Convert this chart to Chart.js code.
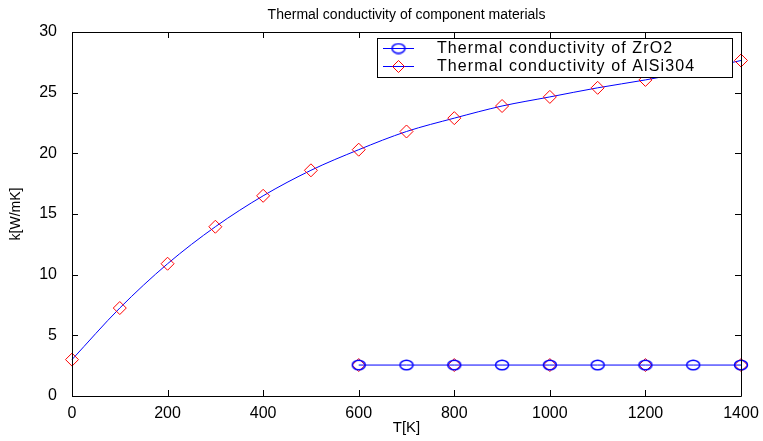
<!DOCTYPE html>
<html>
<head>
<meta charset="utf-8">
<script src="https://cdn.jsdelivr.net/npm/chart.js@4"></script>
<style>
  html, body { margin: 0; padding: 0; background: #fff; }
  #wrap { width: 763px; height: 441px; }
</style>
</head>
<body>
<div id="wrap"><canvas id="kChart" width="763" height="441"></canvas></div>
<script>
// temperatures [K] and conductivities [W/mK]
const tempAlSi = [0, 100, 200, 300, 400, 500, 600, 700, 800, 900, 1000, 1100, 1200, 1300, 1400];
const kAlSi = [3.0, 7.25, 10.9, 13.95, 16.5, 18.6, 20.3, 21.8, 22.9, 23.9, 24.65, 25.4, 26.05, 26.8, 27.65];
const tempZrO2 = [600, 700, 800, 900, 1000, 1100, 1200, 1300, 1400];
const kZrO2 = [2.55, 2.55, 2.55, 2.55, 2.55, 2.55, 2.55, 2.55, 2.55];
// red marks hidden under the ZrO2 circles
const tempExtra = [600, 800, 1000, 1200, 1400];
const kExtra = [2.55, 2.55, 2.55, 2.55, 2.55];

const chartTitle = 'Thermal conductivity of component materials';
const xTitle = 'T[K]';
const yTitle = 'k[W/mK]';

const toPts = (xs, ys) => xs.map((x, i) => ({x: x, y: ys[i]}));
const FONT = '"Liberation Sans", Arial, sans-serif';

// matlab's circles come out a bit squashed in the picture
const ovalMark = document.createElement('canvas');
ovalMark.width = 16; ovalMark.height = 12;
(function() {
    const c = ovalMark.getContext('2d');
    c.strokeStyle = '#0000ff';
    c.lineWidth = 1.5;
    c.beginPath();
    c.ellipse(8, 6, 6.5, 4.8, 0, 0, Math.PI * 2);
    c.stroke();
})();

// title, box, inward ticks and the in-plot legend, drawn the matlab way
const matlabLook = {
    id: 'matlabLook',
    afterDraw(chart) {
        const ctx = chart.ctx;
        const a = chart.chartArea;
        const xs = chart.scales.x, ys = chart.scales.y;
        ctx.save();
        ctx.fillStyle = '#000';
        ctx.font = '14px ' + FONT;
        ctx.textAlign = 'center';
        ctx.textBaseline = 'middle';
        ctx.fillText(chartTitle, (a.left + a.right) / 2, 15);

        ctx.strokeStyle = '#000';
        ctx.lineWidth = 1;
        ctx.beginPath();
        ctx.rect(a.left + 0.5, a.top + 0.5, a.right - a.left, a.bottom - a.top);
        xs.ticks.forEach(t => {
            const px = Math.round(xs.getPixelForValue(t.value)) + 0.5;
            ctx.moveTo(px, a.bottom); ctx.lineTo(px, a.bottom - 6);
            ctx.moveTo(px, a.top); ctx.lineTo(px, a.top + 6);
        });
        ys.ticks.forEach(t => {
            const py = Math.round(ys.getPixelForValue(t.value)) + 0.5;
            ctx.moveTo(a.left, py); ctx.lineTo(a.left + 6, py);
            ctx.moveTo(a.right, py); ctx.lineTo(a.right - 6, py);
        });
        ctx.stroke();

        // legend box
        const bx = 377, by = 38, bw = 355, bh = 39;
        ctx.fillStyle = '#fff';
        ctx.fillRect(bx, by, bw, bh);
        ctx.strokeRect(bx + 0.5, by + 0.5, bw, bh);
        const rows = [
            {ds: chart.data.datasets[2], y: 48},
            {ds: chart.data.datasets[0], y: 66}
        ];
        rows.forEach(r => {
            const cy = r.y + 0.5;
            ctx.strokeStyle = '#0000ff';
            ctx.lineWidth = 1;
            ctx.beginPath();
            ctx.moveTo(383, cy); ctx.lineTo(414, cy);
            ctx.stroke();
            if (r.ds.pointStyle === ovalMark) {
                ctx.drawImage(ovalMark, 398.5 - 8, cy - 6);
            } else {
                ctx.strokeStyle = r.ds.pointBorderColor;
                ctx.beginPath();
                ctx.moveTo(398.5, cy - 6); ctx.lineTo(404.5, cy);
                ctx.lineTo(398.5, cy + 6); ctx.lineTo(392.5, cy); ctx.closePath();
                ctx.stroke();
            }
            ctx.fillStyle = '#000';
            ctx.font = '16px ' + FONT;
            ctx.letterSpacing = '1.1px';
            ctx.textAlign = 'left';
            ctx.fillText(r.ds.label, 437, r.y + 1);
            ctx.letterSpacing = '0px';
        });
        ctx.restore();
    }
};

const ctx = document.getElementById('kChart').getContext('2d');
new Chart(ctx, {
    type: 'line',
    data: {
        datasets: [{
            label: 'Thermal conductivity of AlSi304',
            data: toPts(tempAlSi, kAlSi),
            borderColor: '#0000ff',
            borderWidth: 1,
            cubicInterpolationMode: 'monotone',
            pointStyle: 'rectRot',
            pointRadius: 6.5,
            pointBorderColor: '#ff0000',
            pointBackgroundColor: 'rgba(0,0,0,0)',
            pointBorderWidth: 1,
            clip: false,
            order: 3
        }, {
            label: '',
            data: toPts(tempExtra, kExtra),
            showLine: false,
            pointStyle: 'rectRot',
            pointRadius: 6.5,
            pointBorderColor: '#ff0000',
            pointBackgroundColor: 'rgba(0,0,0,0)',
            pointBorderWidth: 1,
            clip: false,
            order: 2
        }, {
            label: 'Thermal conductivity of ZrO2',
            data: toPts(tempZrO2, kZrO2),
            borderColor: '#0000ff',
            borderWidth: 1,
            pointStyle: ovalMark,
            pointRadius: 6,
            clip: false,
            order: 1
        }]
    },
    options: {
        responsive: false,
        animation: false,
        events: [],
        layout: { padding: { top: 32, right: 22, left: 0, bottom: 0 } },
        plugins: {
            legend: { display: false },
            title: { display: false },
            tooltip: { enabled: false }
        },
        scales: {
            x: {
                type: 'linear',
                min: 0, max: 1400,
                ticks: { stepSize: 200, color: '#000', padding: 0,
                         callback: v => String(v),
                         font: { family: FONT, size: 16 } },
                grid: { display: false },
                border: { display: false },
                title: { display: true, text: xTitle, color: '#000', padding: { top: 0 },
                         font: { family: FONT, size: 15 } },
                afterFit: s => { s.height = 45; }
            },
            y: {
                min: 0, max: 30,
                ticks: { stepSize: 5, color: '#000', padding: 7,
                         callback: v => String(v),
                         font: { family: FONT, size: 16 } },
                grid: { display: false },
                border: { display: false },
                title: { display: true, text: yTitle, color: '#000', padding: { top: 8, bottom: 0 },
                         font: { family: FONT, size: 14 } },
                afterFit: s => { s.width = 72; }
            }
        }
    },
    plugins: [matlabLook]
});
</script>
</body>
</html>
